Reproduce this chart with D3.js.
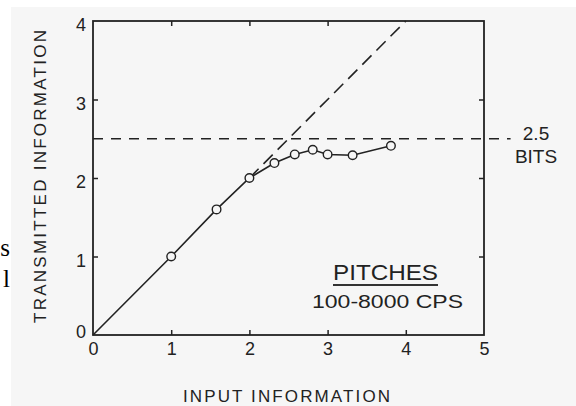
<!DOCTYPE html>
<html>
<head>
<meta charset="utf-8">
<script src="https://cdn.jsdelivr.net/npm/d3@7"></script>
<style>
  body { margin: 0; background: #fff; }
  svg { display: block; }
  .axis path { display: none; }
  .axis line { stroke: #222; stroke-width: 1.5; }
  .axis text { font-family: "Liberation Sans", Arial, sans-serif; font-size: 18px; fill: #222; }
</style>
</head>
<body>
<div id="chart"></div>
<script>
/* data */
var origin = [0, 0],
    inputInfo = [1, 1.58, 2, 2.32, 2.58, 2.81, 3, 3.32, 3.81],
    transInfo = [1, 1.6, 2, 2.19, 2.3, 2.36, 2.3, 2.29, 2.41],
    idealRange = [2, 4],      // dashed y = x beyond the last matching point
    limitBits = 2.5,
    limitEnd = 5.34,
    xTicks = [0, 1, 2, 3, 4, 5],
    yTicks = [0, 1, 2, 3, 4],
    innerTicks = [1, 2, 3],
    xTitle = "INPUT INFORMATION",
    yTitle = "TRANSMITTED INFORMATION",
    limitLabel = ["2.5", "BITS"],
    noteTitle = "PITCHES",
    noteSub = "100-8000 CPS";

/* graphical parameters */
var width = 576,
    height = 406,
    frame = { left: 93, right: 484, top: 21, bottom: 335 },
    ink = "#222",
    paper = "#f6f6f6",
    font = "'Liberation Sans', Arial, sans-serif";

var svg = d3.select("#chart")
    .append("svg")
    .attr("width", width)
    .attr("height", height);

// scanned page background
svg.append("rect")
    .attr("x", 11)
    .attr("y", 7)
    .attr("width", width - 11)
    .attr("height", height - 7)
    .attr("fill", paper);

// stray text from the surrounding page
svg.append("g")
    .attr("font-family", "'Liberation Serif', 'Times New Roman', serif")
    .attr("font-size", 25)
    .attr("fill", "#000")
    .attr("text-anchor", "end")
    .selectAll("text")
    .data(["s", "l"])
    .join("text")
    .attr("x", 10)
    .attr("y", (d, i) => 256 + i * 31)
    .text(d => d);

/* scales */
var x = d3.scaleLinear()
    .domain([0, 5])
    .range([frame.left, frame.right]),
    y = d3.scaleLinear()
    .domain([0, 4])
    .range([frame.bottom, frame.top]);

/* axes */
svg.append("g")
    .attr("class", "axis")
    .attr("transform", "translate(0," + frame.bottom + ")")
    .call(d3.axisBottom(x).tickValues(xTicks).tickSize(-5).tickPadding(7).tickFormat(d3.format("d")))
    .call(g => g.selectAll(".tick line").attr("display", d => (d === 0 || d === 5) ? "none" : null));

svg.append("g")
    .attr("class", "axis")
    .attr("transform", "translate(" + frame.left + ",0)")
    .call(d3.axisLeft(y).tickValues(yTicks).tickSize(-5).tickPadding(7).tickFormat(d3.format("d")))
    .call(g => g.selectAll(".tick line").attr("display", d => (d === 0 || d === 4) ? "none" : null))
    .call(g => g.selectAll(".tick text").attr("dy", d => d === 0 ? "0.15em" : "0.55em"));

svg.append("g")
    .attr("class", "axis")
    .attr("transform", "translate(0," + frame.top + ")")
    .call(d3.axisTop(x).tickValues(innerTicks).tickSize(-5).tickFormat(""));

svg.append("g")
    .attr("class", "axis")
    .attr("transform", "translate(" + frame.right + ",0)")
    .call(d3.axisRight(y).tickValues(innerTicks).tickSize(-5).tickFormat(""));

// frame
svg.append("rect")
    .attr("x", x(0))
    .attr("y", y(4))
    .attr("width", x(5) - x(0))
    .attr("height", y(0) - y(4))
    .attr("fill", "none")
    .attr("stroke", ink)
    .attr("stroke-width", 1.8);

/* reference lines */
svg.append("line")
    .attr("x1", x(0))
    .attr("x2", x(limitEnd))
    .attr("y1", y(limitBits))
    .attr("y2", y(limitBits))
    .attr("stroke", ink)
    .attr("stroke-width", 1.5)
    .attr("stroke-dasharray", "10,8");

svg.append("line")
    .attr("x1", x(idealRange[0]))
    .attr("y1", y(idealRange[0]))
    .attr("x2", x(idealRange[1]))
    .attr("y2", y(idealRange[1]))
    .attr("stroke", ink)
    .attr("stroke-width", 1.6)
    .attr("stroke-dasharray", "13,7");

/* data line and dots */
var pts = inputInfo.map((d, i) => [d, transInfo[i]]);

svg.append("path")
    .datum([origin].concat(pts))
    .attr("fill", "none")
    .attr("stroke", ink)
    .attr("stroke-width", 1.6)
    .attr("d", d3.line().x(d => x(d[0])).y(d => y(d[1])));

svg.append("g")
    .selectAll("circle")
    .data(pts)
    .join("circle")
    .attr("cx", d => x(d[0]))
    .attr("cy", d => y(d[1]))
    .attr("r", 4.3)
    .attr("fill", paper)
    .attr("stroke", ink)
    .attr("stroke-width", 1.4);

/* texts */
var txt = svg.append("g")
    .attr("font-family", font)
    .attr("fill", "#222");

txt.append("text")
    .attr("x", 183)
    .attr("y", 402)
    .attr("font-size", 17)
    .attr("textLength", 207)
    .attr("lengthAdjust", "spacing")
    .text(xTitle);

txt.append("text")
    .attr("transform", "translate(46,323) rotate(-90)")
    .attr("font-size", 17)
    .attr("textLength", 293)
    .attr("lengthAdjust", "spacing")
    .text(yTitle);

txt.selectAll(".lim")
    .data(limitLabel)
    .join("text")
    .attr("class", "lim")
    .attr("x", 536)
    .attr("y", (d, i) => 140 + i * 23)
    .attr("text-anchor", "middle")
    .attr("font-size", 19)
    .text(d => d);

txt.append("text")
    .attr("x", 333)
    .attr("y", 280)
    .attr("font-size", 22)
    .attr("textLength", 105)
    .attr("lengthAdjust", "spacingAndGlyphs")
    .text(noteTitle);

txt.append("line")
    .attr("x1", 333)
    .attr("x2", 438)
    .attr("y1", 285)
    .attr("y2", 285)
    .attr("stroke", "#333")
    .attr("stroke-width", 2);

txt.append("text")
    .attr("x", 312)
    .attr("y", 308)
    .attr("font-size", 19)
    .attr("textLength", 151)
    .attr("lengthAdjust", "spacingAndGlyphs")
    .text(noteSub);
</script>
</body>
</html>
